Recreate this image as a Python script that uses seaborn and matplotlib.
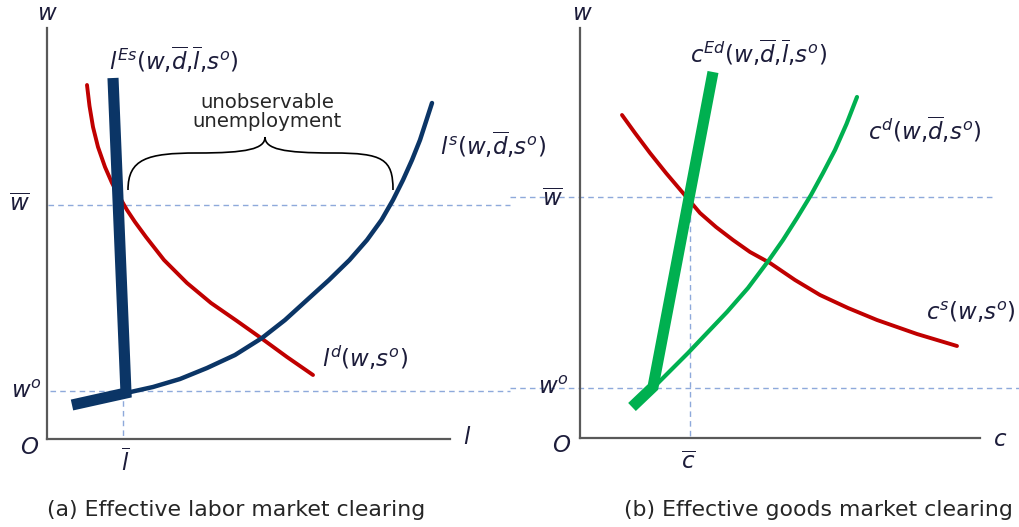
import matplotlib
matplotlib.use("Agg")
import matplotlib.pyplot as plt
import seaborn as sns
from matplotlib.path import Path
from matplotlib.patches import PathPatch

# ---------------- data ----------------
# Panel (a): labor market, origin at O
ld_x = [40, 42.5, 46, 51, 58, 65, 72.5, 80, 88, 99, 117, 140, 164, 190, 214, 240, 266]
ld_y = [354, 333, 312, 292, 272, 256, 242, 229, 217, 202, 179, 156, 136, 118, 101, 82, 64]

les_x = [66, 79, 25]
les_y = [361, 46, 34]

ls_x = [79, 106, 133, 160, 188, 215, 238, 260, 282, 302.5, 320, 334.5, 346, 356, 365, 373, 379.5, 385]
ls_y = [46, 52, 60, 71, 84, 101, 119, 139, 159, 179, 199, 219, 239, 259, 279, 299, 319, 336]

a_wbar, a_wo, a_lbar = 234, 48, 76

# Panel (b): goods market
ced_x = [133, 73, 52]
ced_y = [366, 51, 31]

cd_x = [73, 90, 108, 127, 147, 168, 189, 203, 217, 231, 243, 255, 266.5, 277]
cd_y = [50, 67, 85, 105, 126, 150, 178, 198, 220, 243, 265, 288, 314, 341]

cs_x = [42, 55, 70, 86, 103, 120, 136, 153, 170, 190, 215, 240, 268, 297, 337, 377]
cs_y = [323, 305, 285, 265, 245, 225, 211, 198, 186, 175, 158, 143, 130, 118, 104, 92]

b_wbar, b_wo, b_cbar = 241, 50, 110

# ---------------- style ----------------
sns.set_theme(style="white")
plt.rcParams["font.family"] = ["DejaVu Sans"]
plt.rcParams["mathtext.fontset"] = "dejavusans"

RED = "#C00000"
NAVY = "#0B3566"
GREEN = "#00B050"
DASH = "#8EA9DB"
TXT = "#1C1C3A"
AXC = "#595959"

fig = plt.figure(figsize=(10.2, 5.27), dpi=100)
axA = fig.add_axes([47 / 1020, 88 / 527, 403 / 1020, 411 / 527])
axB = fig.add_axes([580 / 1020, 89 / 527, 400 / 1020, 410 / 527])

for ax, xl, yl in [(axA, 403, 411), (axB, 400, 410)]:
    ax.set_xlim(0, xl)
    ax.set_ylim(0, yl)
    ax.set_xticks([])
    ax.set_yticks([])
    for s in ["top", "right"]:
        ax.spines[s].set_visible(False)
    for s in ["left", "bottom"]:
        ax.spines[s].set_color(AXC)
        ax.spines[s].set_linewidth(1.6)
    ax.patch.set_alpha(0)

dash_kw = dict(color=DASH, linewidth=1.0, dashes=(4, 3), clip_on=False, zorder=1)

# ---------------- panel (a) ----------------
axA.plot([1, 463], [a_wbar, a_wbar], **dash_kw)
axA.plot([3, 463], [a_wo, a_wo], **dash_kw)
axA.plot([a_lbar, a_lbar], [a_wo, 0], **dash_kw)

sns.lineplot(x=ld_x, y=ld_y, sort=False, estimator=None, color=RED,
             linewidth=2.8, ax=axA, zorder=3)
sns.lineplot(x=ls_x, y=ls_y, sort=False, estimator=None, color=NAVY,
             linewidth=3.2, ax=axA, zorder=3)
sns.lineplot(x=les_x, y=les_y, sort=False, estimator=None, color=NAVY,
             linewidth=8, ax=axA, zorder=4, solid_capstyle="butt",
             solid_joinstyle="miter")

# brace over the unemployment gap
verts = [(81, 249),
         (81, 280), (100, 286), (150, 286),
         (200, 286), (218, 290), (218, 302),
         (218, 290), (236, 286), (286, 286),
         (336, 286), (346, 280), (346, 249)]
codes = [Path.MOVETO] + [Path.CURVE4] * 12
axA.add_patch(PathPatch(Path(verts, codes), facecolor="none",
                        edgecolor="black", linewidth=1.2, zorder=3))

fs = 16.5
tkw = dict(color=TXT, fontsize=fs, ha="center", va="center", clip_on=False)
axA.text(0, 426, r"$w$", **tkw)
axA.text(-17, -8, r"$O$", **tkw)
axA.text(420, 1, r"$l$", **tkw)
axA.text(-28, 234, r"$\overline{w}$", **tkw)
axA.text(-21, 47, r"$w^{o}$", **tkw)
axA.text(78, -24, r"$\overline{l}$", **tkw)
axA.text(127, 379, r"$l^{Es}(w{,}\overline{d}{,}\overline{l}{,}s^{o})$", **tkw)
axA.text(446, 294, r"$l^{s}(w{,}\overline{d}{,}s^{o})$", **tkw)
axA.text(318, 81, r"$l^{d}(w{,}s^{o})$", **tkw)
axA.text(220, 327, "unobservable\nunemployment", color="#262626", fontsize=14.2,
         ha="center", va="center", linespacing=1.0)
axA.text(189, -71, "(a) Effective labor market clearing", color="#262626",
         fontsize=15.8, ha="center", va="center", clip_on=False)

# ---------------- panel (b) ----------------
axB.plot([-70, 413], [b_wbar, b_wbar], **dash_kw)
axB.plot([-70, 440], [b_wo, b_wo], **dash_kw)
axB.plot([b_cbar, b_cbar], [b_wbar, 0], **dash_kw)

sns.lineplot(x=cs_x, y=cs_y, sort=False, estimator=None, color=RED,
             linewidth=2.8, ax=axB, zorder=3)
sns.lineplot(x=cd_x, y=cd_y, sort=False, estimator=None, color=GREEN,
             linewidth=3.0, ax=axB, zorder=3)
sns.lineplot(x=ced_x, y=ced_y, sort=False, estimator=None, color=GREEN,
             linewidth=8, ax=axB, zorder=4, solid_capstyle="butt",
             solid_joinstyle="miter")

axB.text(2, 425, r"$w$", **tkw)
axB.text(-18, -7, r"$O$", **tkw)
axB.text(420, -1, r"$c$", **tkw)
axB.text(-28, 238, r"$\overline{w}$", **tkw)
axB.text(-27, 50, r"$w^{o}$", **tkw)
axB.text(108, -25, r"$\overline{c}$", **tkw)
axB.text(179, 385, r"$c^{Ed}(w{,}\overline{d}{,}\overline{l}{,}s^{o})$", **tkw)
axB.text(345, 308, r"$c^{d}(w{,}\overline{d}{,}s^{o})$", **tkw)
axB.text(391, 126, r"$c^{s}(w{,}s^{o})$", **tkw)
axB.text(238, -72, "(b) Effective goods market clearing", color="#262626",
         fontsize=15.8, ha="center", va="center", clip_on=False)

fig.savefig("out.png", dpi=100, facecolor="white")
